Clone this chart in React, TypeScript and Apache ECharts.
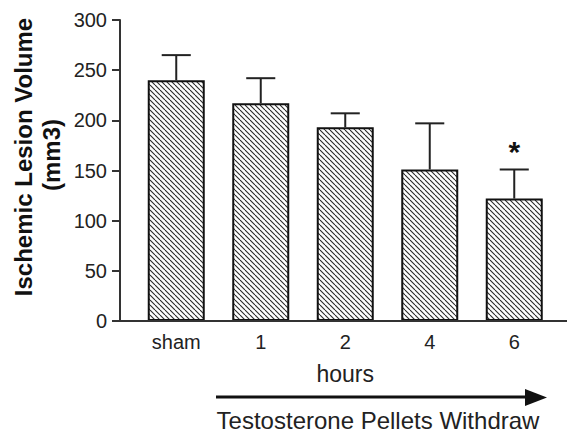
import React, { useEffect, useRef } from "react";
import * as echarts from "echarts";

const categories = ["sham", "1", "2", "4", "6"];
const lesionVolume = [240, 217, 193, 151, 122];
const sem = [25, 25, 14, 46, 29];
const significance = ["", "", "", "", "*"];
const yMin = 0;
const yMax = 300;
const yInterval = 50;

const FONT = "'Liberation Sans', Arial, Helvetica, sans-serif";

function makeHatch(): string {
  const s = 5;
  const c = document.createElement("canvas");
  c.width = s;
  c.height = s;
  const ctx = c.getContext("2d")!;
  ctx.fillStyle = "#fff";
  ctx.fillRect(0, 0, s, s);
  ctx.strokeStyle = "#2a2a2a";
  ctx.lineWidth = 1.1;
  for (const k of [-1, 0, 1]) {
    ctx.beginPath();
    ctx.moveTo(k * s, 0);
    ctx.lineTo(k * s + s, s);
    ctx.stroke();
  }
  return c.toDataURL();
}

export default function App() {
  const ref = useRef<HTMLDivElement>(null);
  useEffect(() => {
    if (!ref.current) return;
    const chart = echarts.init(ref.current, undefined, { renderer: "svg" });
    const hatch = makeHatch();
    chart.setOption({
      animation: false,
      backgroundColor: "#fff",
      grid: { left: 134, right: 12.5, top: 20, bottom: 112, containLabel: false },
      xAxis: {
        type: "category",
        data: categories,
        axisLine: { show: false },
        axisTick: { show: false },
        axisLabel: { color: "#222", fontSize: 20, fontFamily: FONT, margin: 11 },
        name: "hours",
        nameLocation: "middle",
        nameGap: 41,
        nameTextStyle: { color: "#222", fontSize: 23, fontFamily: FONT },
      },
      yAxis: {
        type: "value",
        min: yMin,
        max: yMax,
        interval: yInterval,
        offset: 14,
        axisLine: { show: true, lineStyle: { color: "#333", width: 2 } },
        axisTick: { show: true, inside: false, length: 8, lineStyle: { color: "#333", width: 2 } },
        axisLabel: { color: "#222", fontSize: 20, fontFamily: FONT, margin: 13 },
        splitLine: { show: false },
      },
      graphic: [
        {
          type: "line",
          shape: { x1: 119, y1: 321, x2: 567, y2: 321 },
          style: { stroke: "#333", lineWidth: 2 },
          z: 100,
        },
        {
          type: "text",
          x: 23,
          y: 157,
          rotation: Math.PI / 2,
          style: {
            text: "Ischemic Lesion Volume",
            fontSize: 24,
            fontWeight: "bold",
            fontFamily: FONT,
            fill: "#111",
            align: "center",
            verticalAlign: "middle",
          },
        },
        {
          type: "text",
          x: 51,
          y: 155,
          rotation: Math.PI / 2,
          style: {
            text: "(mm3)",
            fontSize: 24,
            fontWeight: "bold",
            fontFamily: FONT,
            fill: "#111",
            align: "center",
            verticalAlign: "middle",
          },
        },
        {
          type: "line",
          shape: { x1: 216, y1: 397, x2: 530, y2: 397 },
          style: { stroke: "#111", lineWidth: 3 },
        },
        {
          type: "polygon",
          shape: { points: [[525, 389], [547, 397.5], [525, 406]] },
          style: { fill: "#111" },
        },
        {
          type: "text",
          x: 378,
          y: 420,
          style: {
            text: "Testosterone Pellets Withdraw",
            fontSize: 24,
            fontFamily: FONT,
            fill: "#222",
            align: "center",
            verticalAlign: "middle",
          },
        },
      ],
      series: [
        {
          type: "bar",
          data: lesionVolume,
          barWidth: 57,
          itemStyle: {
            color: { image: hatch, repeat: "repeat", imageWidth: 5, imageHeight: 5 },
            borderColor: "#111",
            borderWidth: 2,
          },
          z: 2,
        },
        {
          type: "custom",
          z: 5,
          data: categories.map((_, i) => [i, lesionVolume[i], sem[i]]),
          renderItem: (params: any, api: any) => {
            const x = api.value(0);
            const v = api.value(1);
            const e = api.value(2);
            const base = api.coord([x, v]);
            const top = api.coord([x, v + e]);
            const hw = api.size([1, 0])[0] * 0.172;
            const children: any[] = [
              {
                type: "line",
                shape: { x1: top[0], y1: base[1], x2: top[0], y2: top[1] },
                style: { stroke: "#222", lineWidth: 2 },
              },
              {
                type: "line",
                shape: { x1: top[0] - hw, y1: top[1], x2: top[0] + hw, y2: top[1] },
                style: { stroke: "#222", lineWidth: 2 },
              },
            ];
            const sig = significance[params.dataIndex];
            if (sig) {
              children.push({
                type: "text",
                x: top[0],
                y: top[1] - 18,
                style: {
                  text: sig,
                  fontSize: 30,
                  fontWeight: "bold",
                  fontFamily: FONT,
                  fill: "#111",
                  align: "center",
                  verticalAlign: "middle",
                },
              });
            }
            return { type: "group", children };
          },
        },
      ],
    });
    return () => chart.dispose();
  }, []);
  return (
    <div
      ref={ref}
      style={{ position: "absolute", left: 0, top: 0, width: 569, height: 433 }}
    />
  );
}
